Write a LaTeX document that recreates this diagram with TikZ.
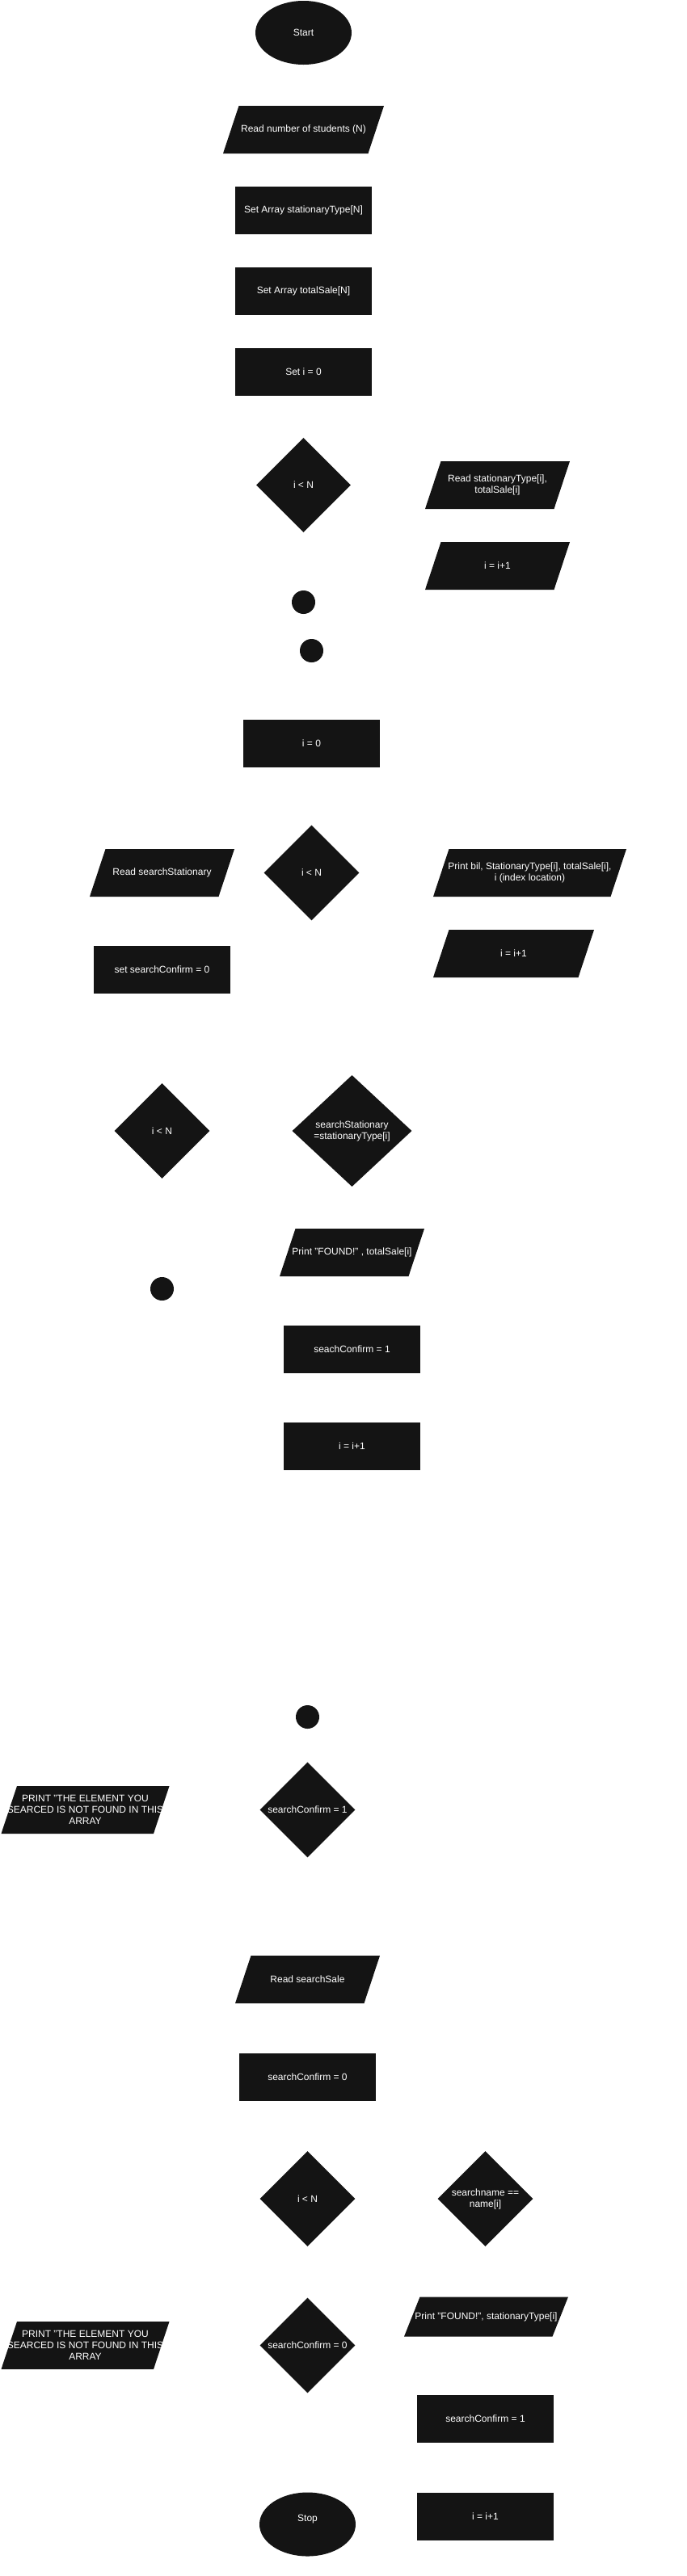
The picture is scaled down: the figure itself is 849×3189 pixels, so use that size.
\documentclass[tikz,border=0pt]{standalone}
\usepackage{fontspec}
\setmainfont{Liberation Sans}
\usetikzlibrary{shapes.geometric}
\definecolor{boxc}{HTML}{141414}
\newcommand\pslant{19.5pt}
\begin{document}
\begin{tikzpicture}[x=1pt,y=-1pt,
  every node/.style={text=white, font=\fontsize{12}{14}\selectfont, inner sep=0pt, align=center},
  procbox/.style={rectangle, fill=boxc, minimum width=169pt, minimum height=59pt},
  iobox/.style={rectangle, minimum height=59pt,
    path picture={\fill[boxc] ([xshift=\pslant]path picture bounding box.north west)
      -- (path picture bounding box.north east)
      -- ([xshift=-\pslant]path picture bounding box.south east)
      -- (path picture bounding box.south west) -- cycle;}},
  decbox/.style={diamond, fill=boxc, minimum width=118pt, minimum height=118pt},
  termbox/.style={ellipse, fill=boxc, minimum width=119pt, minimum height=79pt},
  dotbox/.style={circle, fill=boxc, minimum size=29pt},
]
\fill[white] (0,0) rectangle (849,3189);
\useasboundingbox (0,0) rectangle (849,3189);

% first block
\node[termbox] (start) at (375.5,40.5) {Start};
\node[iobox, minimum width=199pt] (readN) at (375.5,160.5) {Read number of students (N)};
\node[procbox] (setST) at (375.5,260.5) {Set Array stationaryType[N]};
\node[procbox] (setTS) at (375.5,360.5) {Set Array totalSale[N]};
\node[procbox] (seti) at (375.5,460.5) {Set i = 0};
\node[decbox, minimum width=117pt, minimum height=117pt] (d1) at (375.5,600.5) {i {<} N};
\node[iobox, minimum width=179pt] (readST) at (615.5,600.5) {Read stationaryType[i],\\totalSale[i]};
\node[iobox, minimum width=179pt] (inc1) at (615.5,700.5) {i = i+1};
\node[dotbox] (c1) at (375.5,745.5) {};
\node[dotbox] (c2) at (385.5,805.5) {};

% second block
\node[procbox] (i0) at (385.5,920.5) {i = 0};
\node[iobox, minimum width=179pt] (readSS) at (200.5,1080.5) {Read searchStationary};
\node[decbox] (d2) at (385.5,1080.5) {i {<} N};
\node[iobox, minimum width=239pt] (printbil) at (655.5,1080.5) {Print bil, StationaryType[i], totalSale[i],\\i (index location)};
\node[iobox, minimum width=199pt] (inc2) at (635.5,1180.5) {i = i+1};
\node[procbox] (setSC0) at (200.5,1200.5) {set searchConfirm = 0};

% third block
\node[decbox] (d3) at (200.5,1400) {i {<} N};
\node[decbox, minimum width=148pt, minimum height=138pt] (d4) at (435.5,1400) {searchStationary\\=stationaryType[i]};
\node[iobox, minimum width=179pt] (printFound) at (435.5,1550.5) {Print "FOUND!" , totalSale[i]};
\node[dotbox] (c3) at (200.5,1595.5) {};
\node[procbox] (seach1) at (435.5,1670.5) {seachConfirm = 1};
\node[procbox] (inc3) at (435.5,1790.5) {i = i+1};

% fourth block
\node[dotbox] (c4) at (380.5,2125.5) {};
\node[iobox, minimum width=208pt] (printNF1) at (105.5,2240.5) {PRINT "THE ELEMENT YOU\\SEARCED IS NOT FOUND IN THIS\\ARRAY};
\node[decbox] (d5) at (380.5,2240.5) {searchConfirm = 1};

% fifth block
\node[iobox, minimum width=179pt] (readSale) at (380.5,2450.5) {Read searchSale};
\node[procbox] (sc0) at (380.5,2571) {searchConfirm = 0};
\node[decbox] (d6) at (380.5,2722) {i {<} N};
\node[decbox] (d7) at (600.5,2722) {searchname ==\\name[i]};
\node[iobox, minimum width=203pt, minimum height=49pt] (printFound2) at (601.5,2868) {Print "FOUND!", stationaryType[i]};
\node[decbox] (d8) at (380.5,2903.5) {searchConfirm = 0};
\node[iobox, minimum width=208pt] (printNF2) at (105.5,2903.5) {PRINT "THE ELEMENT YOU\\SEARCED IS NOT FOUND IN THIS\\ARRAY};
\node[procbox] (sc1) at (600.5,2994) {searchConfirm = 1};
\node[termbox] (stop) at (380.5,3125) {\raisebox{3.7pt}[0pt][0pt]{Stop}};
\node[procbox] (inc4) at (600.5,3115) {i = i+1};
\end{tikzpicture}
\end{document}
